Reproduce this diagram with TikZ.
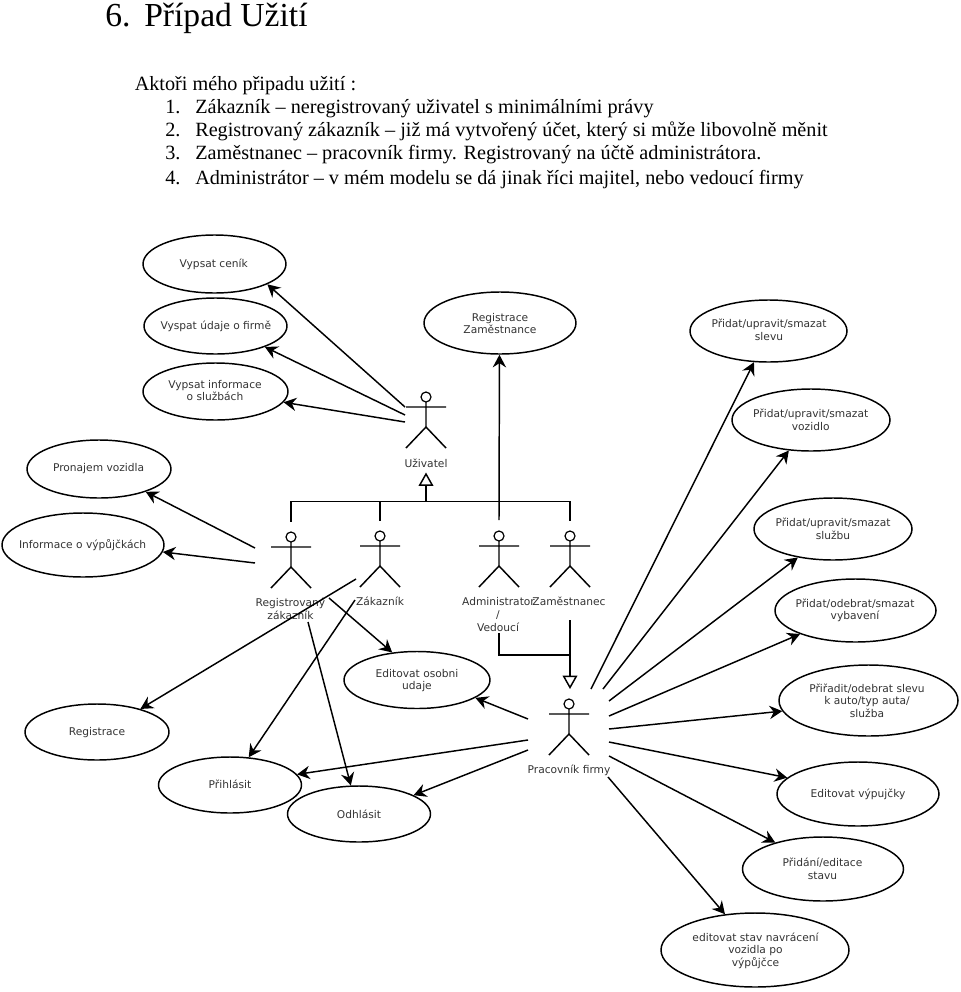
\documentclass[tikz,border=0pt]{standalone}
\usepackage{fontspec}
\setmainfont{Liberation Serif}
\newfontfamily\diagfont{DejaVu Sans}
\usetikzlibrary{shapes.geometric,arrows.meta}
\definecolor{labelgrey}{HTML}{333333}
\tikzset{
  x=0.75pt,y=-0.75pt,
  usecase/.style={draw=black,line width=1.1pt,shape=ellipse,inner sep=0pt},
  caption/.style={text=labelgrey,align=center,inner sep=0pt,font=\diagfont\fontsize{8}{9.5}\selectfont},
  bodytext/.style={anchor=base west,inner sep=0pt,font=\fontsize{15.17}{17}\selectfont},
  heading/.style={anchor=base west,inner sep=0pt,font=\fontsize{25.2}{29}\selectfont},
  assoc/.style={draw=black,line width=1.1pt,-{Stealth[length=9.5pt,width=10pt,inset=3.2pt]}},
  genline/.style={draw=black,line width=1.1pt},
  gentip/.style={draw=black,line width=1.1pt,-{Triangle[open,length=10pt,width=11pt]}},
  actor/.pic={
    \draw[line width=0.9pt] (0,0) circle[radius=5];
    \draw[line width=1.1pt] (0,5)--(0,30) (-20,10)--(20,10) (-20,51)--(0,30)--(20,51);
  }
}
% name, cx, cy, rx, ry, text x, text y, text
\newcommand{\usecasenode}[8]{%
  \node[usecase,minimum width=#4*1.5pt,minimum height=#5*1.5pt] (#1) at (#2,#3) {};
  \node[caption] (#1-text) at (#6,#7) {#8};}
\begin{document}
\begin{tikzpicture}
\useasboundingbox[fill=white] (0,0) rectangle (960,992);
% text
\node[heading] (titlenum) at (105,26.5) {6.};
\node[heading] (title) at (144,26.5) {Případ Užití};
\node[bodytext] (intro) at (134.5,90.5) {Aktoři mého připadu užití :};
\node[bodytext] (n1) at (165,113) {1.};
\node[bodytext] (t1) at (195,113) {Zákazník – neregistrovaný uživatel s minimálními právy};
\node[bodytext] (n2) at (165,136.5) {2.};
\node[bodytext] (t2) at (195,136.5) {Registrovaný zákazník – již má vytvořený účet, který si může libovolně měnit};
\node[bodytext] (n3) at (165,159.5) {3.};
\node[bodytext] (t3) at (195,159.5) {Zaměstnanec – pracovník firmy. Registrovaný na účtě administrátora.};
\node[bodytext] (n4) at (165,184) {4.};
\node[bodytext] (t4) at (195,184) {Administrátor – v mém modelu se dá jinak říci majitel, nebo vedoucí firmy};
% use cases
\usecasenode{cenik}{214.5}{264}{71.5}{29}{213.7}{264.5}{Vypsat ceník}
\usecasenode{firma}{215.5}{326}{71.5}{28}{215.8}{326}{Vyspat údaje o firmě}
\usecasenode{info}{215.5}{391.5}{72.5}{28.5}{215}{390.5}{Vypsat informace\\o službách}
\usecasenode{regzam}{500}{323}{76}{31}{500}{323.5}{Registrace\\Zaměstnance}
\usecasenode{sleva}{768.5}{331}{78.5}{31}{769}{330}{Přidat/upravit/smazat\\slevu}
\usecasenode{vozidlo}{811}{420}{79}{31}{810.7}{420}{Přidat/upravit/smazat\\vozidlo}
\usecasenode{sluzba}{833}{529}{79}{31}{833}{529}{Přidat/upravit/smazat\\službu}
\usecasenode{vybaveni}{855.5}{610.5}{80.5}{31.5}{855}{610.5}{Přidat/odebrat/smazat\\vybavení}
\usecasenode{priradit}{868.5}{700.5}{89.5}{35.5}{867}{700.5}{Přiřadit/odebrat slevu\\k auto/typ auta/\\služba}
\usecasenode{vypujcky}{858}{794}{81}{32}{858}{794}{Editovat výpujčky}
\usecasenode{stav}{823}{869}{80.5}{32}{822.5}{869}{Přidání/editace\\stavu}
\usecasenode{navrat}{755}{950}{94}{37}{755.5}{950.5}{editovat stav navrácení\\vozidla po\\výpůjčce}
\usecasenode{pronajem}{99}{469}{72}{29}{98.6}{469}{Pronajem vozidla}
\usecasenode{vypujckach}{83}{545}{81}{32}{82.6}{545}{Informace o výpůjčkách}
\usecasenode{osobni}{417}{680}{73}{28.5}{417}{680.5}{Editovat osobni\\udaje}
\usecasenode{registrace}{97}{732}{72}{28}{97}{732.5}{Registrace}
\usecasenode{prihlasit}{230}{785}{71.5}{28}{230}{784.5}{Přihlásit}
\usecasenode{odhlasit}{359}{814}{71.5}{28}{359}{814.5}{Odhlásit}
% actors
\pic at (426,397) {actor};
\pic at (291,537) {actor};
\pic at (380,536) {actor};
\pic at (499,536) {actor};
\pic at (570,536) {actor};
\pic at (569,704) {actor};
\node[caption] (luziv) at (426,463) {Uživatel};
\node[caption] (lreg) at (290.5,608.5) {Registrovaný\\zákazník};
\node[caption] (lzak) at (380,601.5) {Zákazník};
\node[caption] (ladm) at (498.5,601.5) {Administrator};
\node[caption] (lslash) at (498,615) {/};
\node[caption] (lved) at (498,627) {Vedoucí};
\node[caption] (lzam) at (569,601.5) {Zaměstnanec};
\node[caption] (lprac) at (569,770) {Pracovník firmy};
% start points
\coordinate (u1) at (405,407); \coordinate (u2) at (405,415); \coordinate (u3) at (405,422);
\coordinate (r1) at (255,548); \coordinate (r2) at (255,563);
\coordinate (z1) at (356,579); \coordinate (z2) at (355,600);
\coordinate (r3) at (329,598); \coordinate (r4) at (308,622);
\coordinate (p1) at (528,719); \coordinate (p2) at (528,740); \coordinate (p3) at (528,750);
\coordinate (f1) at (591,689); \coordinate (f2) at (603,689); \coordinate (f3) at (609,701);
\coordinate (f4) at (609,716); \coordinate (f5) at (609,729); \coordinate (f6) at (609,742);
\coordinate (f7) at (609,756); \coordinate (f8) at (608,777);
\coordinate (a0) at (499,520);
% associations
\draw[assoc] (u1) -- (cenik.-21.8);
\draw[assoc] (u2) -- (firma.-23.8);
\draw[assoc] (u3) -- (info.-9.5);
\draw[assoc] (a0) -- (regzam.-91);
\draw[assoc] (r1) -- (pronajem.-26);
\draw[assoc] (r2) -- (vypujckach.-5.8);
\draw[assoc] (z1) -- (registrace.28.6);
\draw[assoc] (z2) -- (prihlasit.56.8);
\draw[assoc] (r3) -- (osobni.132);
\draw[assoc] (r4) -- (odhlasit.106.7);
\draw[assoc] (p1) -- (osobni.-17.8);
\draw[assoc] (p2) -- (prihlasit.9);
\draw[assoc] (p3) -- (odhlasit.19.7);
\draw[assoc] (f1) -- (sleva.-115.8);
\draw[assoc] (f2) -- (vozidlo.-126.9);
\draw[assoc] (f3) -- (sluzba.-141);
\draw[assoc] (f4) -- (vybaveni.-157.9);
\draw[assoc] (f5) -- (priradit.-173.2);
\draw[assoc] (f6) -- (vypujcky.167.5);
\draw[assoc] (f7) -- (stav.151);
\draw[assoc] (f8) -- (navrat.130.7);
% generalisation upper
\coordinate (gtop) at (426,472.5); \coordinate (gjoin) at (426,501.5);
\coordinate (g1) at (291,521.5); \coordinate (g2) at (380,520.5); \coordinate (g4) at (570,520.5);
\draw[gentip] (gjoin) -- (gtop);
\draw[genline] (g1) |- (gjoin);
\draw[genline] (g2) |- (gjoin);
\draw[genline] (g4) |- (gjoin);
% generalisation lower
\coordinate (l1) at (570,620); \coordinate (l2) at (499,633); \coordinate (l3) at (570,655); \coordinate (l4) at (570,689);
\draw[gentip] (l1) -- (l4);
\draw[genline] (l2) |- (l3);
\end{tikzpicture}
\end{document}
